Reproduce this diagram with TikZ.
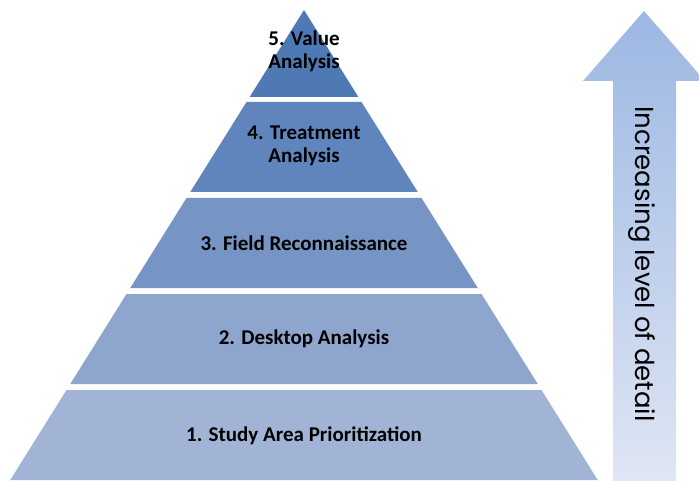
\documentclass[tikz,border=0pt]{standalone}
\usepackage{fontspec}
\setmainfont{Carlito}
\newfontfamily\arrowfont{Poppins}
\usetikzlibrary{positioning}
\definecolor{levelone}{RGB}{162,180,213}
\definecolor{leveltwo}{RGB}{142,165,205}
\definecolor{levelthree}{RGB}{118,148,196}
\definecolor{levelfour}{RGB}{96,133,189}
\definecolor{levelfive}{RGB}{79,121,180}
\definecolor{arrowtop}{RGB}{156,183,227}
\definecolor{arrowbottom}{RGB}{223,230,244}

\begin{document}
\begin{tikzpicture}[x=1pt,y=-1pt,
    leveltext/.style={font=\fontsize{21}{23}\selectfont\bfseries, align=center, text=black},
    detailtext/.style={font=\arrowfont\fontsize{26}{30}\selectfont, text=black, rotate=-90}]
    \useasboundingbox (0,0) rectangle (699,481);
    \clip (0,0) rectangle (699,481);

    % Pyramid layers (apex at 304,10)
    \foreach \ytop/\ybot/\col in {390/480/levelone, 294/384/leveltwo, 198/288/levelthree, 102/192/levelfour, 10/97/levelfive}{
        \pgfmathsetmacro\wtop{(\ytop-10)*0.625}
        \pgfmathsetmacro\wbot{(\ybot-10)*0.625}
        \fill[\col] (304-\wtop,\ytop) -- (304+\wtop,\ytop) -- (304+\wbot,\ybot) -- (304-\wbot,\ybot) -- cycle;
    }

    % Layer labels
    \node[leveltext] (study) at (304,436) {1. Study Area Prioritization};
    \node[leveltext] (desktop) at (304,339) {2. Desktop Analysis};
    \node[leveltext] (field) at (304,243) {3. Field Reconnaissance};
    \node[leveltext] (treatment) at (304,146) {4. Treatment\\Analysis};
    \node[leveltext] (value) at (304,51) {5. Value\\Analysis};

    % Arrow of increasing detail
    \shade[top color=arrowtop, bottom color=arrowbottom]
        (644,11) -- (705,81) -- (676,81) -- (676,481) -- (613,481) -- (613,81) -- (583,81) -- cycle;
    \node[detailtext] (detail) at (642,264) {Increasing level of detail};
\end{tikzpicture}
\end{document}
